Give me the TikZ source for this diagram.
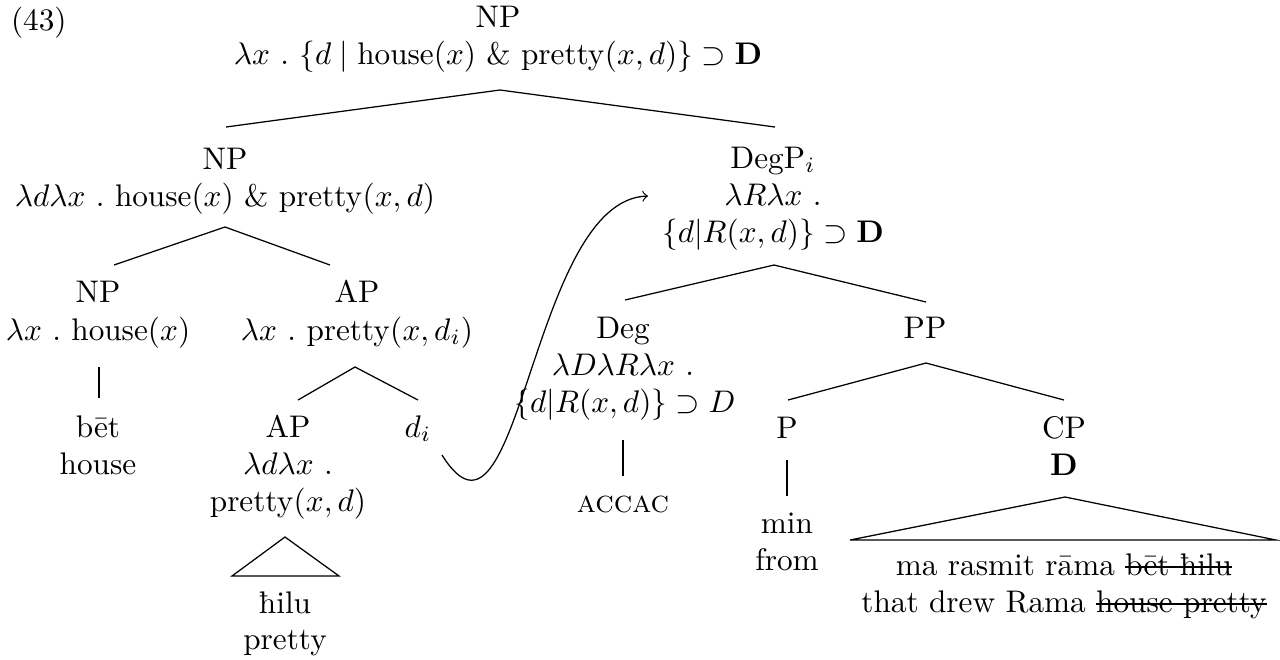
\documentclass[tikz,border=0pt]{standalone}
\usetikzlibrary{calc}
\newcommand{\xstrike}[1]{\setbox0=\hbox{#1}\rlap{\rule[0.55ex]{\wd0}{0.4pt}}\box0}
\begin{document}
\begin{tikzpicture}[x=0.32pt,y=-0.32pt,
  txt/.style={anchor=base,inner sep=0pt,outer sep=0pt},
  br/.style={line width=0.4pt},
  mv/.style={->,line width=0.4pt}]
\useasboundingbox (0,0) rectangle (1280,659);
% example number
\node[txt,anchor=base west] (ex) at (11,30) {(43)};
% top NP
\node[txt] (top1) at (498,27) {NP};
\node[txt] (top2) at (498,64) {$\lambda x\ .\ \{d\mid \mathrm{house}(x)\ \&\ \mathrm{pretty}(x,d)\}\supset\mathbf{D}$};
\coordinate (topA) at (500,90);
\coordinate (topL) at (226,127);
\coordinate (topR) at (775,127);
\draw[br] (topL) -- (topA) -- (topR);
% NP mid
\node[txt] (npm1) at (225,169) {NP};
\node[txt] (npm2) at (225,206) {$\lambda d\lambda x\ .\ \mathrm{house}(x)\ \&\ \mathrm{pretty}(x,d)$};
\coordinate (npmA) at (225,227);
\coordinate (npmL) at (114,265);
\coordinate (npmR) at (330,265);
\draw[br] (npmL) -- (npmA) -- (npmR);
% DegP
\node[txt] (dp1) at (773,168) {DegP$_i$};
\node[txt] (dp2) at (773,205) {$\lambda R\lambda x\ .$};
\node[txt] (dp3) at (773,242) {$\{d|R(x,d)\}\supset\mathbf{D}$};
\coordinate (dpA) at (774,265);
\coordinate (dpL) at (625,300);
\coordinate (dpR) at (926,302);
\draw[br] (dpL) -- (dpA) -- (dpR);
% NP low
\node[txt] (npl1) at (98,302) {NP};
\node[txt] (npl2) at (98,340) {$\lambda x\ .\ \mathrm{house}(x)$};
\node[txt] (npl3) at (98,437) {bēt};
\node[txt] (npl4) at (98,474) {house};
\coordinate (nplT) at (99,367);
\coordinate (nplB) at (99,398);
\draw[br] (nplT) -- (nplB);
% AP
\node[txt] (ap1) at (357,302) {AP};
\node[txt] (ap2) at (357,340) {$\lambda x\ .\ \mathrm{pretty}(x,d_i)$};
\coordinate (apA) at (355,367);
\coordinate (apL) at (298,400);
\coordinate (apR) at (418,400);
\draw[br] (apL) -- (apA) -- (apR);
% AP low
\node[txt] (apl1) at (288,437) {AP};
\node[txt] (apl2) at (288,474) {$\lambda d\lambda x\ .$};
\node[txt] (apl3) at (288,511) {$\mathrm{pretty}(x,d)$};
\coordinate (triA) at (285,537);
\coordinate (triL) at (232,576);
\coordinate (triR) at (339,576);
\draw[br] (triA) -- (triL) -- (triR) -- cycle;
\node[txt] (apl4) at (285,613) {ħilu};
\node[txt] (apl5) at (285,649) {pretty};
% d_i
\node[txt] (di) at (418,437) {$d_i$};
% Deg
\node[txt] (deg1) at (623,338) {Deg};
\node[txt] (deg2) at (623,375) {$\lambda D\lambda R\lambda x\ .$};
\node[txt] (deg3) at (625,412) {$\{d|R(x,d)\}\supset D$};
\coordinate (degT) at (623,440);
\coordinate (degB) at (623,476);
\draw[br] (degT) -- (degB);
\node[txt] (deg4) at (623,512) {\textsc{accac}};
% PP
\node[txt] (pp) at (925,338) {PP};
\coordinate (ppA) at (926,363);
\coordinate (ppL) at (788,400);
\coordinate (ppR) at (1064,400);
\draw[br] (ppL) -- (ppA) -- (ppR);
% P
\node[txt] (p1) at (787,438) {P};
\coordinate (pT) at (787,460);
\coordinate (pB) at (787,496);
\draw[br] (pT) -- (pB);
\node[txt] (p2) at (787,533) {min};
\node[txt] (p3) at (787,570) {from};
% CP
\node[txt] (cp1) at (1064,438) {CP};
\node[txt] (cp2) at (1064,475) {$\mathbf{D}$};
\coordinate (cpA) at (1065,497);
\coordinate (cpL) at (850,540);
\coordinate (cpR) at (1276,540);
\draw[br] (cpA) -- (cpL) -- (cpR) -- cycle;
\node[txt] (cp3) at (1064,575) {ma rasmit rāma \xstrike{bēt ħilu}};
\node[txt] (cp4) at (1064,612) {that drew Rama \xstrike{house pretty}};
% movement arrow
\coordinate (mvS) at (442,455);
\coordinate (mvE) at (648,196);
\draw[mv] (mvS) .. controls (520,580) and (530,200) .. (mvE);
\end{tikzpicture}
\end{document}
